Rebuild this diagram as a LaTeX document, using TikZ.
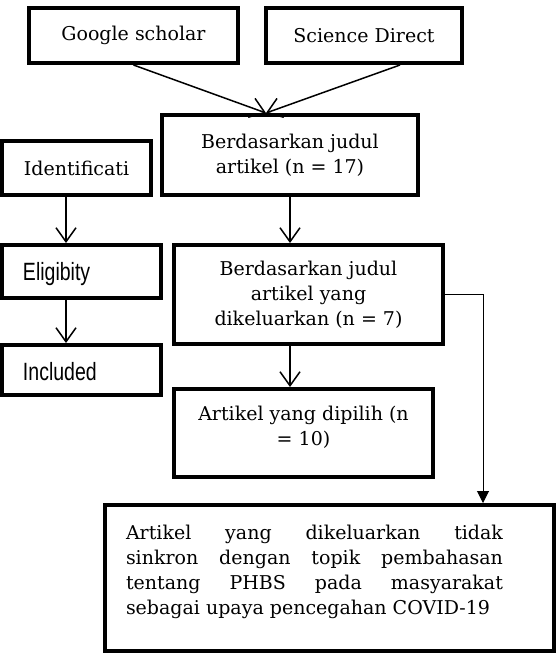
\documentclass[tikz,border=0pt]{standalone}
\usepackage{fontspec}
\setmainfont{DejaVu Serif}
\newfontfamily\narrowsans[FakeStretch=0.78]{Liberation Sans}
\usetikzlibrary{arrows.meta}
\begin{document}
\begin{tikzpicture}[x=1pt,y=-1pt,
	box/.style={draw,line width=4pt,inner sep=0pt,align=center,font=\fontsize{19}{25}\selectfont},
	stage/.style={draw,line width=4pt,inner xsep=21pt,inner ysep=0pt,text width=117pt,align=left,font=\narrowsans\fontsize{25}{28}\selectfont},
	arr/.style={line width=1.5pt,-{Straight Barb[length=14pt,width=20pt,line width=1.5pt]}}]
		\useasboundingbox(0,0)rectangle(556,654);
		\node[box,minimum width=209pt,minimum height=55pt](google)at(133.5,35.5){Google scholar};
		\node[box,minimum width=196pt,minimum height=55pt](science)at(364,35.5){Science Direct};
		\node[box,minimum width=256pt,minimum height=80pt](judul)at(290,155){Berdasarkan judul\\artikel (n = 17)};
		\node[box,minimum width=149pt,minimum height=54pt](ident)at(76.5,168){Identificati};
		\node[stage,minimum height=53pt](elig)at(81.5,271.5){\raisebox{-3pt}[\height][\depth]{Eligibity}};
		\node[stage,minimum height=50pt](incl)at(81.5,370){\raisebox{-2pt}[\height][\depth]{Included}};
		\node[box,minimum width=269pt,minimum height=99pt](keluar)at(308.5,294.5){Berdasarkan judul\\artikel yang\\dikeluarkan (n = 7)};
		\node[box,minimum width=259pt,minimum height=88pt](dipilih)at(303.5,433){\raisebox{-7pt}[\height][\depth]{\begin{tabular}{@{}c@{}}Artikel yang dipilih (n\\= 10)\\ \mbox{}\end{tabular}}};
		\node[box,minimum width=449pt,minimum height=146pt](tidak)at(329.5,578){\raisebox{-4pt}[\height][\depth]{\parbox{377pt}{Artikel yang dikeluarkan tidak\linebreak sinkron dengan topik pembahasan\linebreak tentang PHBS pada masyarakat\linebreak sebagai upaya pencegahan \mbox{COVID-19}\par\mbox{}}}\hspace{30pt}};
		\coordinate(merge)at(266,113);
		\draw[arr](google.south)--(merge);
		\draw[arr]([xshift=36pt]science.south)--(merge);
		\draw[arr](judul.south)--(judul.south|-keluar.north);
		\draw[arr](judul.south|-keluar.south)--(judul.south|-dipilih.north);
		\draw[arr]([xshift=-10.5pt]ident.south)--([xshift=-10.5pt]ident.south|-elig.north);
		\draw[arr]([xshift=-15.5pt]elig.south)--([xshift=-15.5pt]elig.south|-incl.north);
		\draw[line width=1pt,-{Triangle[length=12pt,width=12pt]}](keluar.east)-|([xshift=153.5pt]tidak.north);
	\end{tikzpicture}
\end{document}
